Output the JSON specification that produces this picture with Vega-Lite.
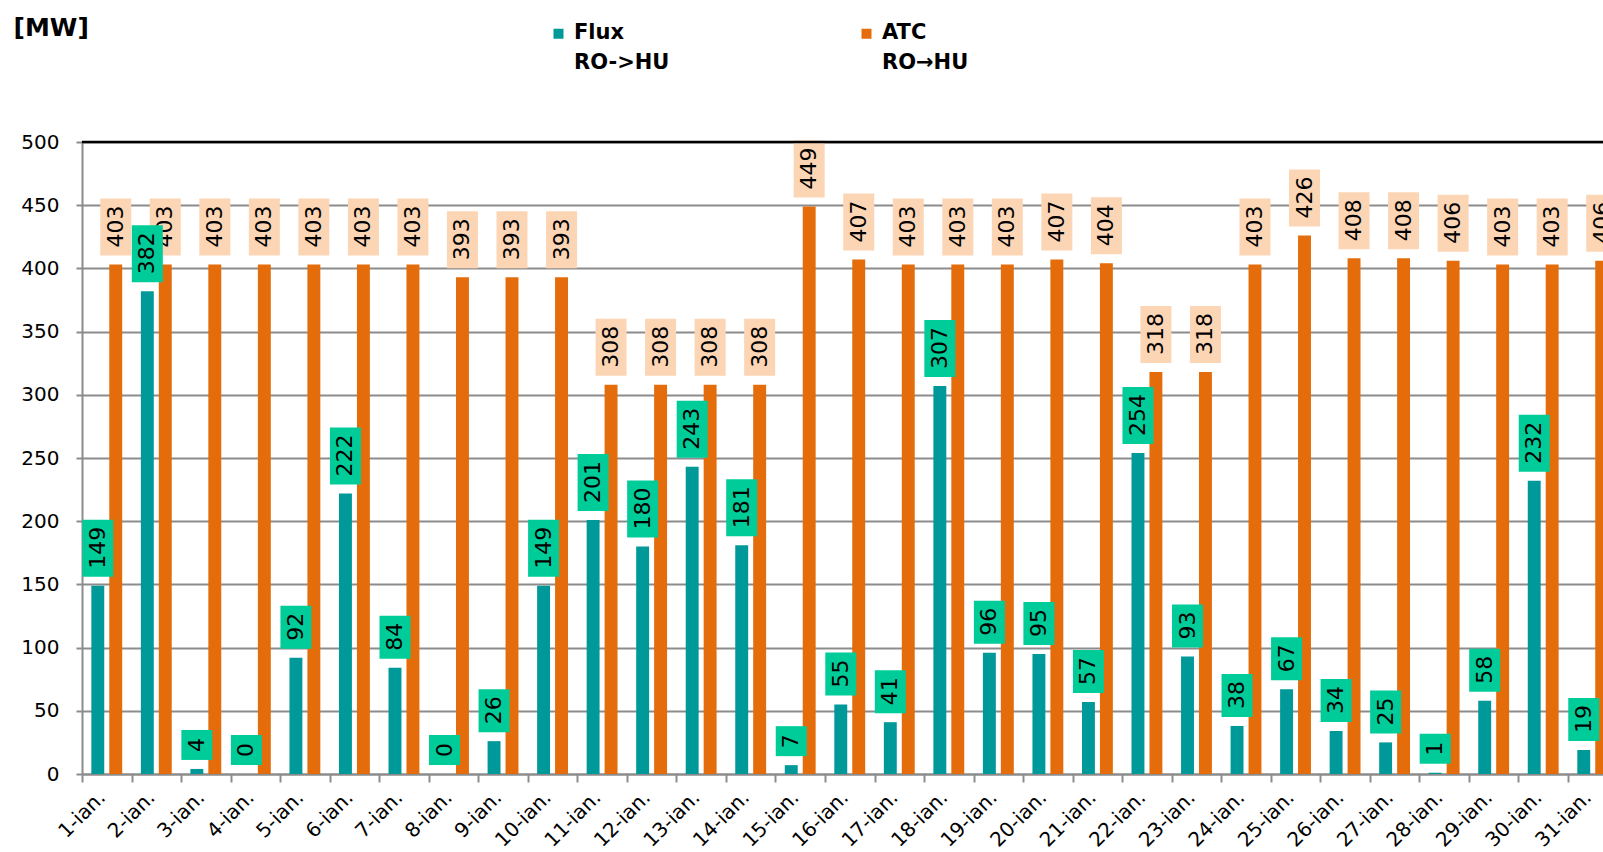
{
  "$schema": "https://vega.github.io/schema/vega-lite/v6.json",
  "width": 1521,
  "height": 632,
  "autosize": {"type": "none"},
  "padding": {"left": 82, "top": 142, "right": 0, "bottom": 78},
  "background": "white",
  "config": {
    "view": {"stroke": null},
    "font": "DejaVu Sans",
    "style": {"guide-label": {"lineHeight": 30}}
  },
  "data": {
    "values": [
      {"day": "1-ian.", "series": "Flux", "value": 149}, {"day": "1-ian.", "series": "ATC", "value": 403},
      {"day": "2-ian.", "series": "Flux", "value": 382}, {"day": "2-ian.", "series": "ATC", "value": 403},
      {"day": "3-ian.", "series": "Flux", "value": 4}, {"day": "3-ian.", "series": "ATC", "value": 403},
      {"day": "4-ian.", "series": "Flux", "value": 0}, {"day": "4-ian.", "series": "ATC", "value": 403},
      {"day": "5-ian.", "series": "Flux", "value": 92}, {"day": "5-ian.", "series": "ATC", "value": 403},
      {"day": "6-ian.", "series": "Flux", "value": 222}, {"day": "6-ian.", "series": "ATC", "value": 403},
      {"day": "7-ian.", "series": "Flux", "value": 84}, {"day": "7-ian.", "series": "ATC", "value": 403},
      {"day": "8-ian.", "series": "Flux", "value": 0}, {"day": "8-ian.", "series": "ATC", "value": 393},
      {"day": "9-ian.", "series": "Flux", "value": 26}, {"day": "9-ian.", "series": "ATC", "value": 393},
      {"day": "10-ian.", "series": "Flux", "value": 149}, {"day": "10-ian.", "series": "ATC", "value": 393},
      {"day": "11-ian.", "series": "Flux", "value": 201}, {"day": "11-ian.", "series": "ATC", "value": 308},
      {"day": "12-ian.", "series": "Flux", "value": 180}, {"day": "12-ian.", "series": "ATC", "value": 308},
      {"day": "13-ian.", "series": "Flux", "value": 243}, {"day": "13-ian.", "series": "ATC", "value": 308},
      {"day": "14-ian.", "series": "Flux", "value": 181}, {"day": "14-ian.", "series": "ATC", "value": 308},
      {"day": "15-ian.", "series": "Flux", "value": 7}, {"day": "15-ian.", "series": "ATC", "value": 449},
      {"day": "16-ian.", "series": "Flux", "value": 55}, {"day": "16-ian.", "series": "ATC", "value": 407},
      {"day": "17-ian.", "series": "Flux", "value": 41}, {"day": "17-ian.", "series": "ATC", "value": 403},
      {"day": "18-ian.", "series": "Flux", "value": 307}, {"day": "18-ian.", "series": "ATC", "value": 403},
      {"day": "19-ian.", "series": "Flux", "value": 96}, {"day": "19-ian.", "series": "ATC", "value": 403},
      {"day": "20-ian.", "series": "Flux", "value": 95}, {"day": "20-ian.", "series": "ATC", "value": 407},
      {"day": "21-ian.", "series": "Flux", "value": 57}, {"day": "21-ian.", "series": "ATC", "value": 404},
      {"day": "22-ian.", "series": "Flux", "value": 254}, {"day": "22-ian.", "series": "ATC", "value": 318},
      {"day": "23-ian.", "series": "Flux", "value": 93}, {"day": "23-ian.", "series": "ATC", "value": 318},
      {"day": "24-ian.", "series": "Flux", "value": 38}, {"day": "24-ian.", "series": "ATC", "value": 403},
      {"day": "25-ian.", "series": "Flux", "value": 67}, {"day": "25-ian.", "series": "ATC", "value": 426},
      {"day": "26-ian.", "series": "Flux", "value": 34}, {"day": "26-ian.", "series": "ATC", "value": 408},
      {"day": "27-ian.", "series": "Flux", "value": 25}, {"day": "27-ian.", "series": "ATC", "value": 408},
      {"day": "28-ian.", "series": "Flux", "value": 1}, {"day": "28-ian.", "series": "ATC", "value": 406},
      {"day": "29-ian.", "series": "Flux", "value": 58}, {"day": "29-ian.", "series": "ATC", "value": 403},
      {"day": "30-ian.", "series": "Flux", "value": 232}, {"day": "30-ian.", "series": "ATC", "value": 403},
      {"day": "31-ian.", "series": "Flux", "value": 19}, {"day": "31-ian.", "series": "ATC", "value": 406}
    ]
  },
  "layer": [
    {
      "encoding": {
        "x": {
          "field": "day", "type": "nominal", "sort": null,
          "scale": {"range": [0, 1535.5], "paddingInner": 0, "paddingOuter": 0},
          "axis": {
            "title": null, "labelAngle": -45, "labelFontSize": 20, "labelColor": "black",
            "tickBand": "extent", "tickSize": 8, "tickColor": "#8c8c8c", "tickWidth": 2,
            "domainColor": "#8c8c8c", "domainWidth": 2, "labelPadding": 5, "labelOffset": -12, "grid": false
          }
        },
        "xOffset": {
          "field": "series", "type": "nominal", "sort": ["Flux", "ATC"],
          "scale": {"paddingInner": 0.28, "paddingOuter": 0.52}
        },
        "y": {
          "field": "value", "type": "quantitative",
          "scale": {"domain": [0, 500]},
          "axis": {
            "values": [0, 50, 100, 150, 200, 250, 300, 350, 400, 450, 500],
            "labelFontSize": 20, "labelColor": "black", "labelPadding": 17,
            "tickSize": 6, "tickColor": "#8c8c8c", "tickWidth": 2,
            "domainColor": "#8c8c8c", "domainWidth": 2,
            "gridColor": "#8c8c8c", "gridWidth": 2,
            "title": "[MW]", "titleAngle": 0, "titleAlign": "left", "titleBaseline": "alphabetic",
            "titleX": -69, "titleY": -107, "titleFontSize": 25, "titleFontWeight": "bold", "titleColor": "black"
          }
        }
      },
      "layer": [
        {
          "mark": {"type": "bar"},
          "encoding": {
            "color": {
              "field": "series", "type": "nominal",
              "scale": {"domain": ["Flux", "ATC"], "range": ["#009999", "#E46C0A"]},
              "legend": {
                "orient": "none", "legendX": 466, "legendY": -114, "direction": "horizontal",
                "title": null, "symbolType": "M-1,-2H1V0H-1Z", "symbolSize": 100, "symbolStrokeWidth": 0,
                "symbolOpacity": 1, "labelFontSize": 21, "labelFontWeight": "bold", "labelColor": "black",
                "labelExpr": "datum.label == 'Flux' ? ['Flux', 'RO->HU'] : ['ATC', 'RO→HU']",
                "labelBaseline": "alphabetic", "labelOffset": 5, "columnPadding": 186,
                "padding": 0, "labelLimit": 300
              }
            }
          }
        },
        {
          "transform": [{"filter": "datum.series == 'ATC'"}],
          "mark": {"type": "point", "filled": true, "size": 961, "opacity": 1, "yOffset": -9, "color": "#FCD5B5", "strokeWidth": 0},
          "encoding": {
            "shape": {
              "condition": [
                {"test": "datum.value < 10", "value": "M-1,0L1,0L1,-1.935L-1,-1.935Z"},
                {"test": "datum.value < 100", "value": "M-1,0L1,0L1,-2.774L-1,-2.774Z"}
              ],
              "value": "M-1,0L1,0L1,-3.677L-1,-3.677Z"
            }
          }
        },
        {
          "transform": [{"filter": "datum.series == 'ATC'"}],
          "mark": {"type": "text", "angle": 270, "align": "left", "baseline": "middle", "yOffset": -17, "fontSize": 22, "color": "black"},
          "encoding": {"text": {"field": "value", "type": "quantitative"}}
        },
        {
          "transform": [{"filter": "datum.series == 'Flux'"}],
          "mark": {"type": "point", "filled": true, "size": 961, "opacity": 1, "yOffset": -9, "color": "#00CC99", "strokeWidth": 0},
          "encoding": {
            "shape": {
              "condition": [
                {"test": "datum.value < 10", "value": "M-1,0L1,0L1,-1.935L-1,-1.935Z"},
                {"test": "datum.value < 100", "value": "M-1,0L1,0L1,-2.774L-1,-2.774Z"}
              ],
              "value": "M-1,0L1,0L1,-3.677L-1,-3.677Z"
            }
          }
        },
        {
          "transform": [{"filter": "datum.series == 'Flux'"}],
          "mark": {"type": "text", "angle": 270, "align": "left", "baseline": "middle", "yOffset": -17, "fontSize": 22, "color": "black"},
          "encoding": {"text": {"field": "value", "type": "quantitative"}}
        }
      ]
    },
    {
      "data": {"values": [{}]},
      "mark": {"type": "rule", "color": "black", "strokeWidth": 2.5},
      "encoding": {"y": {"datum": 500}}
    }
  ]
}
